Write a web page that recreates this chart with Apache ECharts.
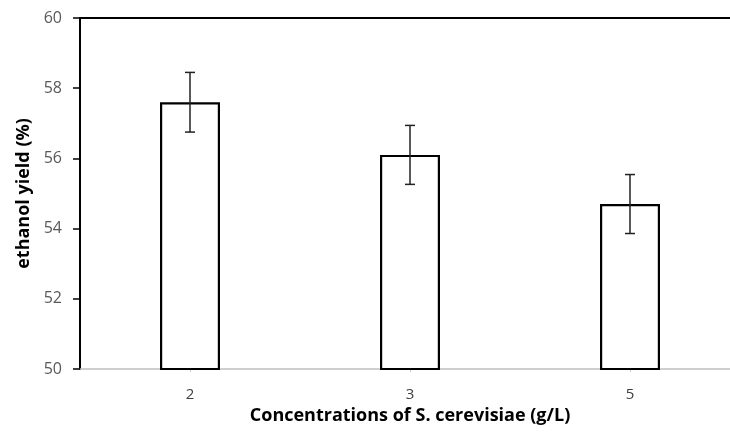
<!DOCTYPE html>
<html>
<head>
<meta charset="utf-8">
<script src="https://cdn.jsdelivr.net/npm/echarts@6/dist/echarts.min.js"></script>
<style>
  html, body { margin: 0; padding: 0; background: #fff; }
  #chart { width: 730px; height: 438px; }
</style>
</head>
<body>
<div id="chart"></div>
<script>
const categories = ['2', '3', '5']
const yieldValues = [57.6, 56.1, 54.7]
const yieldErrors = [0.85, 0.84, 0.84]
const yTicks = [50, 52, 54, 56, 58, 60]

const chart = echarts.init(document.getElementById('chart'))

const errorData = categories.map((c, i) => [i, yieldValues[i] - yieldErrors[i], yieldValues[i] + yieldErrors[i]])

const renderError = (params, api) => {
  const x = api.value(0)
  const low = api.coord([x, api.value(1)])
  const high = api.coord([x, api.value(2)])
  const cap = 5
  const style = { stroke: '#222', lineWidth: 1.5 }
  return {
    type: 'group',
    children: [
      { type: 'line', shape: { x1: low[0], y1: low[1], x2: high[0], y2: high[1] }, style },
      { type: 'line', shape: { x1: low[0] - cap, y1: low[1], x2: low[0] + cap, y2: low[1] }, style },
      { type: 'line', shape: { x1: high[0] - cap, y1: high[1], x2: high[0] + cap, y2: high[1] }, style }
    ]
  }
}

const option = {
  animation: false,
  backgroundColor: '#fff',
  grid: { left: 80, top: 18, width: 660, height: 351, outerBoundsMode: 'none' },
  xAxis: [
    {
      type: 'category',
      data: categories,
      name: 'Concentrations of S. cerevisiae (g/L)',
      nameLocation: 'middle',
      nameGap: 38,
      nameTextStyle: { fontFamily: 'Open Sans', fontWeight: 'bold', fontSize: 18, color: '#000' },
      axisLine: { lineStyle: { color: '#bfbfbf', width: 1.5 } },
      axisTick: { show: true, alignWithLabel: true, length: 3, lineStyle: { color: '#d0d0d0' } },
      axisLabel: { fontFamily: 'Open Sans', fontSize: 15, color: '#404040', margin: 18 }
    },
    {
      type: 'category',
      data: categories,
      position: 'top',
      axisLine: { lineStyle: { color: '#000', width: 2 } },
      axisTick: { show: false },
      axisLabel: { show: false }
    }
  ],
  yAxis: {
    type: 'value',
    min: yTicks[0],
    max: yTicks[yTicks.length - 1],
    interval: 2,
    name: 'ethanol yield (%)',
    nameLocation: 'middle',
    nameGap: 44,
    nameTextStyle: { fontFamily: 'Open Sans', fontWeight: 'bold', fontSize: 18, color: '#000' },
    axisLine: { show: true, lineStyle: { color: '#000', width: 2 } },
    axisTick: { show: true, length: 7, lineStyle: { color: '#000', width: 1.5 } },
    axisLabel: { fontFamily: 'Open Sans', fontSize: 16, color: '#595959', margin: 18 },
    splitLine: { show: false }
  },
  series: [
    {
      type: 'bar',
      data: yieldValues,
      barWidth: 60,
      itemStyle: { color: '#fff', borderColor: '#000', borderWidth: 2.2 }
    },
    {
      type: 'custom',
      renderItem: renderError,
      data: errorData,
      z: 5
    }
  ]
}

chart.setOption(option)
</script>
</body>
</html>
